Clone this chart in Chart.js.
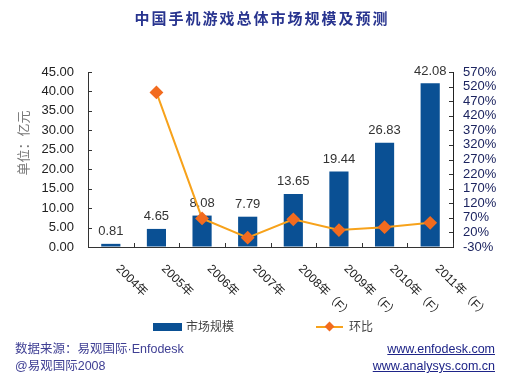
<!DOCTYPE html>
<html>
<head>
<meta charset="utf-8">
<script src="https://cdn.jsdelivr.net/npm/chart.js@4"></script>
<style>
body{margin:0;background:#fff;}
#wrap{position:relative;width:520px;height:375px;overflow:hidden;font-family:"Liberation Sans",Arial,"Noto Sans CJK SC",sans-serif;}
canvas{position:absolute;left:0;top:0;}
.t{position:absolute;white-space:nowrap;line-height:1;}
#title{left:0;width:524px;text-align:center;top:7px;font:bold 15px "Noto Sans CJK SC",sans-serif;letter-spacing:2px;color:#28348f;}
.lg{font-size:12px;color:#444;top:321px;}
.ft{font-size:12.5px;color:#3f3f94;}
.url{text-decoration:underline;color:#1e2488;text-align:right;right:25px;}
</style>
</head>
<body>
<div id="wrap">
<canvas id="c" width="520" height="375"></canvas>
<div class="t" id="title">中国手机游戏总体市场规模及预测</div>
<div class="t" style="left:153px;top:323px;width:29px;height:8px;background:#0a5094"></div>
<div class="t lg" style="left:186px">市场规模</div>
<div class="t" style="left:316px;top:326px;width:27px;height:2px;background:#f7a21b"></div>
<div class="t" style="left:326px;top:323px;width:7px;height:7px;background:#f26b1f;transform:rotate(45deg)"></div>
<div class="t lg" style="left:349px">环比</div>
<div class="t ft" style="left:15px;top:343px">数据来源：易观国际·Enfodesk</div>
<div class="t ft" style="left:15px;top:360px">@易观国际2008</div>
<div class="t ft url" style="top:343px">www.enfodesk.com</div>
<div class="t ft url" style="top:360px">www.analysys.com.cn</div>
</div>
<script>
const years = ['2004年','2005年','2006年','2007年','2008年（F）','2009年（F）','2010年（F）','2011年（F）'];
const marketSize = [0.81, 4.65, 8.08, 7.79, 13.65, 19.44, 26.83, 42.08];
const growth = [null, 500, 68, 2, 65, 28, 38, 53];
const leftTicks = [0,5,10,15,20,25,30,35,40,45];
const rightTicks = [-30,20,70,120,170,220,270,320,370,420,470,520,570];

const FONT = '"Liberation Sans", Arial, "Noto Sans CJK SC", sans-serif';

const decor = {
  id:'decor',
  afterDatasetDraw(chart, args){
    if (args.index !== 0) return;
    const ctx = chart.ctx;
    ctx.save();
    ctx.font = '13px ' + FONT;
    ctx.fillStyle = '#333';
    ctx.textAlign = 'center';
    ctx.textBaseline = 'middle';
    chart.getDatasetMeta(0).data.forEach((bar,i)=>{
      ctx.fillText(marketSize[i].toFixed(2), bar.x, bar.y - 12);
    });
    ctx.restore();
  },
  afterDraw(chart){
    const ctx = chart.ctx, area = chart.chartArea;
    const x = chart.scales.x, y = chart.scales.y, y1 = chart.scales.y1;
    ctx.save();
    ctx.strokeStyle = '#333';
    ctx.lineWidth = 1;
    ctx.beginPath();
    leftTicks.forEach(v=>{
      const py = Math.round(y.getPixelForValue(v)) + 0.5;
      ctx.moveTo(area.left, py); ctx.lineTo(area.left + 4, py);
    });
    rightTicks.forEach(v=>{
      const py = Math.round(y1.getPixelForValue(v)) + 0.5;
      ctx.moveTo(area.right, py); ctx.lineTo(area.right - 4, py);
    });
    for (let i = 0; i <= years.length; i++){
      const px = Math.round(x.getPixelForValue(i - 0.5)) + 0.5;
      ctx.moveTo(px, area.bottom); ctx.lineTo(px, area.bottom - 4);
    }
    ctx.stroke();

    // rotated category labels
    ctx.font = '12px ' + FONT;
    ctx.fillStyle = '#222';
    ctx.textAlign = 'left';
    ctx.textBaseline = 'middle';
    years.forEach((lab,i)=>{
      const cx = x.getPixelForValue(i);
      ctx.save();
      ctx.translate(cx + 7, area.bottom + 20);
      ctx.rotate(Math.PI/4);
      ctx.fillText(lab, 0, 0);
      ctx.restore();
    });

    // unit title
    ctx.font = '13px "Noto Sans CJK SC", sans-serif';
    ctx.fillStyle = '#777';
    ctx.textAlign = 'center';
    ctx.translate(23, 143);
    ctx.rotate(-Math.PI/2);
    ctx.fillText('单位：亿元', 0, 0);
    ctx.restore();
  }
};

new Chart(document.getElementById('c'), {
  data:{ labels: years, datasets:[
    { type:'bar', label:'市场规模', data:marketSize, yAxisID:'y', backgroundColor:'#0a5094',
      barPercentage:0.42, categoryPercentage:1, order:1 },
    { type:'line', label:'环比', data:growth, yAxisID:'y1', borderColor:'#f7a21b', borderWidth:2,
      pointStyle:'rectRot', pointRadius:5.5, pointBackgroundColor:'#f26b1f', pointBorderColor:'#f26b1f',
      tension:0, spanGaps:true, order:0 }
  ]},
  options:{
    responsive:false, animation:false,
    layout:{ padding:{ top:72, left:0, right:0, bottom:0 } },
    plugins:{ legend:{display:false}, tooltip:{enabled:false} },
    scales:{
      x:{ grid:{drawOnChartArea:false, drawTicks:false}, border:{color:'#333'}, ticks:{display:false},
          afterFit(s){ s.height = 128; } },
      y:{ position:'left', min:0, max:45,
          grid:{drawOnChartArea:false, drawTicks:false}, border:{color:'#333'},
          ticks:{ autoSkip:false, padding:14, color:'#222', font:{size:13, family:FONT}, callback:v=>Number(v).toFixed(2) },
          afterBuildTicks(s){ s.ticks = leftTicks.map(v=>({value:v})); },
          afterFit(s){ s.width = 88; } },
      y1:{ position:'right', min:-30, max:570,
          grid:{drawOnChartArea:false, drawTicks:false}, border:{color:'#222'},
          ticks:{ autoSkip:false, padding:10, color:'#1c2460', font:{size:13, family:FONT}, callback:v=>v + '%' },
          afterBuildTicks(s){ s.ticks = rightTicks.map(v=>({value:v})); },
          afterFit(s){ s.width = 67; } }
    }
  },
  plugins:[decor]
});
</script>
</body>
</html>
